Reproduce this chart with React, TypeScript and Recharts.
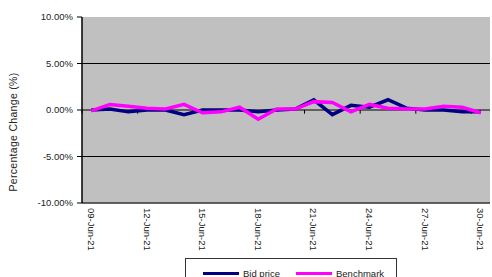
import {
  LineChart,
  Line,
  XAxis,
  YAxis,
  ReferenceLine,
  ReferenceArea,
} from 'recharts';

const dates = [
  '09-Jun-21', '10-Jun-21', '11-Jun-21', '12-Jun-21', '13-Jun-21', '14-Jun-21',
  '15-Jun-21', '16-Jun-21', '17-Jun-21', '18-Jun-21', '19-Jun-21', '20-Jun-21',
  '21-Jun-21', '22-Jun-21', '23-Jun-21', '24-Jun-21', '25-Jun-21', '26-Jun-21',
  '27-Jun-21', '28-Jun-21', '29-Jun-21', '30-Jun-21',
];

const bidPrice = [
  0.0, 0.1, -0.2, 0.0, 0.0, -0.5, 0.0, 0.0, 0.0, -0.2, 0.0,
  0.1, 1.1, -0.5, 0.5, 0.3, 1.1, 0.2, 0.0, 0.0, -0.2, -0.2,
];

const benchmark = [
  -0.1, 0.6, 0.4, 0.2, 0.1, 0.6, -0.3, -0.2, 0.3, -1.0, 0.1,
  0.1, 0.9, 0.8, -0.2, 0.6, 0.2, 0.1, 0.1, 0.4, 0.3, -0.3,
];

const xTicks = [0, 3, 6, 9, 12, 15, 18, 21];
const yTicks = [-10, -5, 0, 5, 10];
const zeroTicks = [-0.5, 2.5, 5.5, 8.5, 11.5, 14.5, 17.5, 20.5];

const data = dates.map((d, i) => ({
  idx: i,
  date: d,
  bid: bidPrice[i],
  bench: benchmark[i],
}));

const series = [
  { key: 'bid', name: 'Bid price', color: '#000080' },
  { key: 'bench', name: 'Benchmark', color: '#ff00ff' },
];

const font = '"Liberation Sans", Arial, sans-serif';

const DateTick = ({ x, y, payload }: { x?: number; y?: number; payload?: { value: number } }) => (
  <text
    transform={`translate(${x},${y}) rotate(90)`}
    textAnchor="start"
    dy="0.35em"
    fontSize={9.5}
    fontFamily={font}
    fill="#222"
  >
    {dates[payload?.value ?? 0]}
  </text>
);

export default function App() {
  return (
    <div style={{ position: 'absolute', left: 0, top: 0, width: 492, height: 277, background: '#fff' }}>
      <LineChart
        width={492}
        height={277}
        data={data}
        margin={{ top: 17, right: 2, bottom: 14, left: 0 }}
      >
        <ReferenceArea x1={-0.5} x2={21.5} y1={-10} y2={10} fill="#c0c0c0" fillOpacity={1} stroke="none" />
        <ReferenceLine y={5} stroke="#000" strokeWidth={1} />
        <ReferenceLine y={-5} stroke="#000" strokeWidth={1} />
        <ReferenceLine y={-10} stroke="#333" strokeWidth={1.5} />
        <ReferenceLine y={0} stroke="#000" strokeWidth={1} />
        {zeroTicks.map((t) => (
          <ReferenceLine key={t} segment={[{ x: t, y: 0 }, { x: t, y: -0.4 }]} stroke="#000" strokeWidth={1} />
        ))}
        <XAxis
          type="number"
          dataKey="idx"
          domain={[-0.5, 21.5]}
          ticks={xTicks}
          interval={0}
          axisLine={false}
          tickLine={false}
          tickSize={3}
          tickMargin={2}
          height={60}
          tick={<DateTick />}
        />
        <YAxis
          domain={[-10, 10]}
          ticks={yTicks}
          interval={0}
          width={82}
          tickFormatter={(v: number) => v.toFixed(2) + '%'}
          axisLine={{ stroke: '#000', strokeWidth: 1.5 }}
          tickLine={{ stroke: '#000' }}
          tickSize={5}
          tickMargin={4}
          tick={{ fontSize: 9.5, fill: '#222', fontFamily: font }}
          label={{
            content: () => (
              <text
                x={13}
                y={132}
                transform="rotate(-90 13 132)"
                textAnchor="middle"
                dominantBaseline="central"
                fontSize={10.5}
                letterSpacing={0.3}
                fontFamily={font}
                fill="#222"
              >
                Percentage Change (%)
              </text>
            ),
          }}
        />
        {series.map((s) => (
          <Line
            key={s.key}
            type="linear"
            dataKey={s.key}
            name={s.name}
            stroke={s.color}
            strokeWidth={3.5}
            dot={false}
            isAnimationActive={false}
          />
        ))}
      </LineChart>
      <div
        style={{
          position: 'absolute',
          left: 185,
          top: 258,
          width: 210,
          height: 26,
          border: '1.5px solid #333',
          background: '#fff',
          fontFamily: font,
          fontSize: 9.5,
          color: '#222',
        }}
      >
        {series.map((s, i) => (
          <div
            key={s.key}
            style={{
              position: 'absolute',
              left: i === 0 ? 17 : 110,
              top: 7,
              display: 'flex',
              alignItems: 'center',
              height: 14,
            }}
          >
            <span style={{ display: 'inline-block', width: 36, height: 3, background: s.color, marginRight: 4 }} />
            <span>{s.name}</span>
          </div>
        ))}
      </div>
    </div>
  );
}
